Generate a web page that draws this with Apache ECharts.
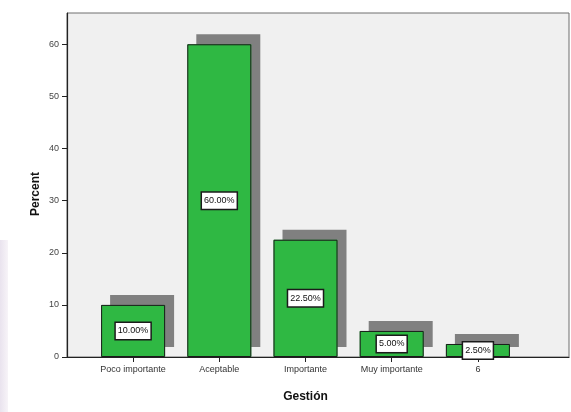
<!DOCTYPE html>
<html>
<head>
<meta charset="utf-8">
<script src="https://cdn.jsdelivr.net/npm/echarts@6/dist/echarts.min.js"></script>
<style>
  html, body { margin: 0; padding: 0; background: #fff; }
  #chart { width: 571px; height: 412px; }
</style>
</head>
<body>
<div id="chart"></div>
<script>
// Gestión - percent per category
var categories = ["Poco importante", "Aceptable", "Importante", "Muy importante", "6"];
var percents = [10, 60, 22.5, 5, 2.5];
var yTicks = [0, 10, 20, 30, 40, 50, 60];

var font = "Liberation Sans, Arial, sans-serif";
var chart = echarts.init(document.getElementById("chart"), null, { renderer: "canvas" });

chart.setOption({
  animation: false,
  backgroundColor: "#ffffff",
  grid: [
    // frame of the plot area
    { left: 67, right: 2, top: 13, bottom: 55, show: true, backgroundColor: "#f0f0f0", borderColor: "#6e6e6e", borderWidth: 1 },
    // bars
    { left: 90, right: 50, top: 13, bottom: 55 }
  ],
  xAxis: [
    { gridIndex: 0, type: "value", min: 0, max: 1, show: true, axisLine: { show: true, lineStyle: { color: "#222", width: 1.2 } },
      axisTick: { show: false }, axisLabel: { show: false }, splitLine: { show: false } },
    { gridIndex: 1, type: "category", data: categories,
      axisLine: { show: false },
      axisTick: { show: true, alignWithLabel: true, length: 5, lineStyle: { color: "#222" } },
      axisLabel: { fontSize: 9, color: "#333", fontFamily: font, margin: 8 },
      name: "Gestión", nameLocation: "middle", nameGap: 34,
      nameTextStyle: { fontSize: 12, fontWeight: "bold", color: "#111", fontFamily: font } }
  ],
  yAxis: [
    { gridIndex: 0, type: "value", min: 0, max: 66, interval: 10,
      axisLine: { show: true, lineStyle: { color: "#222", width: 1.2 } },
      axisTick: { show: true, length: 5, customValues: yTicks, lineStyle: { color: "#222" } },
      axisLabel: { fontSize: 9, color: "#444", fontFamily: font, margin: 8, customValues: yTicks },
      splitLine: { show: false } },
    { gridIndex: 1, type: "value", min: 0, max: 66, show: false }
  ],
  graphic: [
    { type: "rect", shape: { x: 0, y: 240, width: 8, height: 172 }, z: -1,
      style: { fill: new echarts.graphic.LinearGradient(0, 0, 1, 0, [
        { offset: 0, color: "#e9e3ee" }, { offset: 1, color: "#f7f4f8" }]) } },
    { type: "text", x: 36, y: 194, rotation: Math.PI / 2,
      style: { text: "Percent", font: "bold 12px Liberation Sans, Arial, sans-serif", fill: "#111",
        align: "center", verticalAlign: "middle" } }
  ],
  series: [
    {
      // green fill with offset grey shadow
      type: "bar",
      xAxisIndex: 1,
      yAxisIndex: 1,
      data: percents,
      barWidth: 64,
      itemStyle: {
        color: "#2fb843",
        borderWidth: 0,
        shadowColor: "#808080",
        shadowBlur: 0,
        shadowOffsetX: 9,
        shadowOffsetY: -10
      }
    },
    {
      // outline + labels on top
      type: "bar",
      xAxisIndex: 1,
      yAxisIndex: 1,
      data: percents,
      barWidth: 64,
      barGap: "-100%",
      itemStyle: { color: "rgba(0,0,0,0)", borderColor: "#1b1b1b", borderWidth: 1 },
      label: {
        show: true,
        position: "inside",
        formatter: function (p) { return p.value.toFixed(2) + "%"; },
        fontSize: 9,
        fontFamily: font,
        color: "#111",
        backgroundColor: "#ffffff",
        borderColor: "#1b1b1b",
        borderWidth: 1.5,
        padding: [4, 2, 3, 2]
      }
    }
  ]
});
</script>
</body>
</html>
